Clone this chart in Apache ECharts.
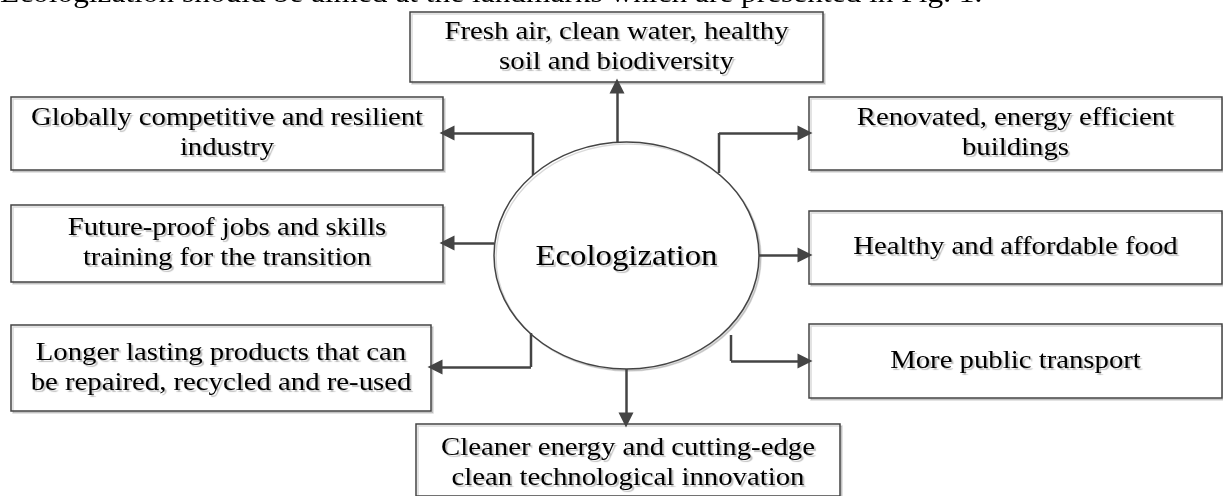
<!DOCTYPE html>
<html>
<head>
<meta charset="utf-8">
<script src="https://cdn.jsdelivr.net/npm/echarts@6/dist/echarts.min.js"></script>
<style>
  html, body { margin: 0; padding: 0; background: #fff; }
  #main { width: 1223px; height: 496px; }
</style>
</head>
<body>
<div id="main"></div>
<script>
// labels of the diagram
var headText = 'Ecologization should be aimed at the landmarks which are presented in Fig. 1.';
var centerLabel = 'Ecologization';
var targetLabels = [
    'Fresh air, clean water, healthy\nsoil and biodiversity',
    'Globally competitive and resilient\nindustry',
    'Future-proof jobs and skills\ntraining for the transition',
    'Longer lasting products that can\nbe repaired, recycled and re-used',
    'Cleaner energy and cutting-edge\nclean technological innovation',
    'Renovated, energy efficient\nbuildings',
    'Healthy and affordable food',
    'More public transport'
];

// layout (pixel space of the figure)
var boxes = [
    [410, 12, 823, 82],
    [11, 97, 443, 170],
    [11, 205, 443, 282],
    [11, 325, 431, 411],
    [416, 424, 840, 496],
    [809, 97, 1222, 170],
    [809, 211, 1222, 284],
    [809, 324, 1222, 398]
];
var ellipse = [626.5, 255.5, 132.5, 113.5];
var connectors = [
    [[617, 142], [617, 83]],
    [[533, 175], [533, 133], [444, 133]],
    [[494, 243], [444, 243]],
    [[531, 333], [531, 367], [432, 367]],
    [[626, 369], [626, 423]],
    [[719, 173], [719, 133], [808, 133]],
    [[759, 255], [808, 255]],
    [[731, 335], [731, 361], [808, 361]]
];

var chart = echarts.init(document.getElementById('main'));

var lineColor = '#444';
var serif = '"Liberation Serif", "Times New Roman", serif';
var arrowSize = [13, 15];

var boxData = boxes.map(function (b, i) {
    return [b[0], b[1], b[2], b[3], i];
});

// last leg of every connector carries the arrow head
var arrowData = connectors.map(function (c) {
    var a = c[c.length - 2], b = c[c.length - 1];
    var dx = b[0] - a[0], dy = b[1] - a[1];
    var len = Math.sqrt(dx * dx + dy * dy);
    var k = 3;
    return { coords: [a, [b[0] - dx / len * k, b[1] - dy / len * k]] };
});

option = {
    animation: false,
    grid: { left: 0, right: 0, top: 0, bottom: 0 },
    xAxis: { type: 'value', min: 0, max: 1223, show: false },
    yAxis: { type: 'value', min: 0, max: 496, inverse: true, show: false },
    graphic: [
        {
            type: 'text',
            x: 0,
            y: -19,
            scaleX: 1.12,
            style: {
                text: headText,
                font: '28px ' + serif,
                fill: '#000'
            }
        }
    ],
    series: [
        {
            type: 'lines',
            coordinateSystem: 'cartesian2d',
            polyline: true,
            lineStyle: { color: lineColor, width: 2.5, opacity: 1 },
            data: connectors.map(function (c) {
                return { coords: c.slice(0, c.length - 1) };
            }).filter(function (d) { return d.coords.length > 1; }),
            z: 3
        },
        {
            type: 'lines',
            coordinateSystem: 'cartesian2d',
            symbol: ['none', 'triangle'],
            symbolSize: arrowSize,
            lineStyle: { color: lineColor, width: 2.5, opacity: 1 },
            data: arrowData,
            z: 3
        },
        {
            type: 'custom',
            coordinateSystem: 'cartesian2d',
            data: [ellipse],
            encode: { x: 0, y: 1 },
            renderItem: function (params, api) {
                var c = api.coord([api.value(0), api.value(1)]);
                var s = api.size([api.value(2), api.value(3)]);
                return {
                    type: 'group',
                    children: [
                        {
                            type: 'ellipse',
                            shape: { cx: c[0], cy: c[1], rx: s[0], ry: s[1] },
                            style: {
                                fill: '#fff',
                                stroke: lineColor,
                                lineWidth: 1.5,
                                shadowColor: 'rgba(0,0,0,0.15)',
                                shadowOffsetX: 2,
                                shadowOffsetY: 2
                            }
                        },
                        {
                            type: 'text',
                            x: c[0],
                            y: c[1] + 2,
                            scaleX: 1.13,
                            style: {
                                text: centerLabel,
                                font: '29px ' + serif,
                                fill: '#000',
                                align: 'center',
                                verticalAlign: 'middle',
                                textShadowColor: 'rgba(0,0,0,0.25)',
                                textShadowOffsetX: 2,
                                textShadowOffsetY: 2,
                                textShadowBlur: 1
                            }
                        }
                    ]
                };
            },
            z: 2
        },
        {
            type: 'custom',
            coordinateSystem: 'cartesian2d',
            data: boxData,
            encode: { x: [0, 2], y: [1, 3] },
            renderItem: function (params, api) {
                var p0 = api.coord([api.value(0), api.value(1)]);
                var p1 = api.coord([api.value(2), api.value(3)]);
                var idx = api.value(4);
                var cy = (p0[1] + p1[1]) / 2;
                if (idx === 4) cy = p0[1] + 39;
                return {
                    type: 'group',
                    children: [
                        {
                            type: 'rect',
                            shape: { x: p0[0], y: p0[1], width: p1[0] - p0[0], height: p1[1] - p0[1] },
                            style: {
                                fill: '#fff',
                                stroke: lineColor,
                                lineWidth: 1.5,
                                shadowColor: 'rgba(0,0,0,0.15)',
                                shadowOffsetX: 2,
                                shadowOffsetY: 2
                            }
                        },
                        {
                            type: 'text',
                            x: (p0[0] + p1[0]) / 2,
                            y: cy,
                            scaleX: 1.15,
                            style: {
                                text: targetLabels[idx],
                                font: '25px ' + serif,
                                lineHeight: 30,
                                fill: '#000',
                                align: 'center',
                                verticalAlign: 'middle',
                                textShadowColor: 'rgba(0,0,0,0.25)',
                                textShadowOffsetX: 2,
                                textShadowOffsetY: 2,
                                textShadowBlur: 1
                            }
                        }
                    ]
                };
            },
            z: 2
        }
    ]
};

chart.setOption(option);
</script>
</body>
</html>
